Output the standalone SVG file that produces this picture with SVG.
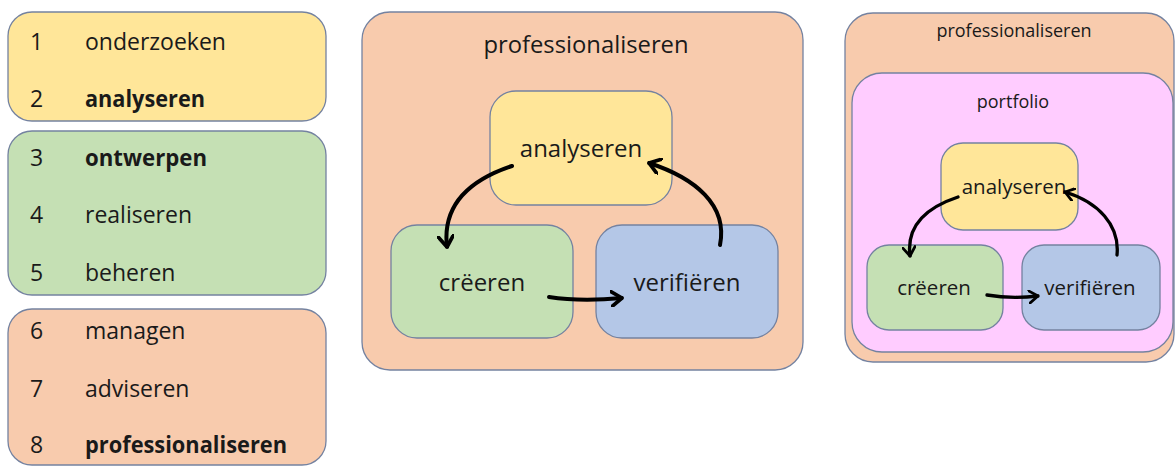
<svg xmlns="http://www.w3.org/2000/svg" width="1176" height="468" viewBox="0 0 1176 468">
<defs>
<style>
.box{stroke:#7482a0;stroke-width:1.3}
.y{fill:#FFE699}.g{fill:#C5E0B4}.o{fill:#F8CBAD}.b{fill:#B4C7E7}.p{fill:#FFCCFF}
text{font-family:"Open Sans","Liberation Sans",sans-serif;fill:#1a1a1a}
.li{font-size:23px}
.bd{font-weight:bold}
.mt{font-size:23.8px;text-anchor:middle}
.mn{font-size:24px;text-anchor:middle}
.rt{font-size:18px;text-anchor:middle}
.rn{font-size:20.5px;text-anchor:middle}
.arr{fill:none;stroke:#000;stroke-width:4;stroke-linecap:round}
.arr2{fill:none;stroke:#000;stroke-width:3.3;stroke-linecap:round}
</style>
<marker id="ah" viewBox="0 0 12 16" refX="11" refY="8" markerWidth="13" markerHeight="17" markerUnits="userSpaceOnUse" orient="auto">
<path d="M1,1 L11,8 L1,15" fill="none" stroke="#000" stroke-width="3.5" stroke-linecap="round" stroke-linejoin="round"/>
</marker>
<marker id="ah2" viewBox="0 0 12 16" refX="11" refY="8" markerWidth="11" markerHeight="14" markerUnits="userSpaceOnUse" orient="auto">
<path d="M1,1 L11,8 L1,15" fill="none" stroke="#000" stroke-width="3.2" stroke-linecap="round" stroke-linejoin="round"/>
</marker>
</defs>

<g id="list-yellow">
<rect class="box y" x="8" y="12" width="318" height="109" rx="24"/>
<text class="li" x="30" y="50">1</text><text class="li" x="85" y="50">onderzoeken</text>
<text class="li" x="30" y="107">2</text><text class="li bd" x="85" y="107" textLength="120" lengthAdjust="spacingAndGlyphs">analyseren</text>
</g>
<g id="list-green">
<rect class="box g" x="8" y="131" width="318" height="164" rx="24"/>
<text class="li" x="30" y="166">3</text><text class="li bd" x="85" y="166" textLength="122" lengthAdjust="spacingAndGlyphs">ontwerpen</text>
<text class="li" x="30" y="223">4</text><text class="li" x="85" y="223">realiseren</text>
<text class="li" x="30" y="281">5</text><text class="li" x="85" y="281">beheren</text>
</g>
<g id="list-orange">
<rect class="box o" x="8" y="309" width="318" height="156" rx="24"/>
<text class="li" x="30" y="339">6</text><text class="li" x="85" y="339">managen</text>
<text class="li" x="30" y="397">7</text><text class="li" x="85" y="397">adviseren</text>
<text class="li" x="30" y="453">8</text><text class="li bd" x="85" y="453" textLength="202" lengthAdjust="spacingAndGlyphs">professionaliseren</text>
</g>

<g id="mid-frame">
<rect class="box o" x="362" y="12" width="441" height="358" rx="28"/>
<text class="mt" x="586" y="53">professionaliseren</text>
</g>
<g id="mid-analyseren">
<rect class="box y" x="490" y="91" width="182" height="114" rx="26"/>
<text class="mn" x="581" y="157">analyseren</text>
</g>
<g id="mid-creeren">
<rect class="box g" x="391" y="225" width="182" height="113" rx="26"/>
<text class="mn" x="482" y="291">crëeren</text>
</g>
<g id="mid-verifieren">
<rect class="box b" x="596" y="225" width="182" height="113" rx="26"/>
<text class="mn" x="687" y="291">verifiëren</text>
</g>

<g id="right-frame">
<rect class="box o" x="845" y="13" width="329" height="349" rx="28"/>
<text class="rt" x="1014" y="37">professionaliseren</text>
</g>
<g id="right-portfolio">
<rect class="box p" x="852" y="73" width="321" height="279" rx="30"/>
<text class="rt" x="1013" y="108">portfolio</text>
</g>
<g id="right-analyseren">
<rect class="box y" x="941" y="143" width="137" height="87" rx="22"/>
<text class="rn" x="1014" y="194">analyseren</text>
</g>
<g id="right-creeren">
<rect class="box g" x="867" y="245" width="136" height="85" rx="22"/>
<text class="rn" x="934" y="295">crëeren</text>
</g>
<g id="right-verifieren">
<rect class="box b" x="1022" y="245" width="138" height="85" rx="22"/>
<text class="rn" x="1090" y="295">verifiëren</text>
</g>

<g id="connectors">
<path class="arr" d="M512,166 C470,180 442,205 447,247" marker-end="url(#ah)"/>
<path class="arr" d="M549,297 C575,301 600,300 622,298" marker-end="url(#ah)"/>
<path class="arr" d="M720,245 C728,205 695,178 649,163" marker-end="url(#ah)"/>
<path class="arr2" d="M958,197 C928,207 906,225 910,256" marker-end="url(#ah2)"/>
<path class="arr2" d="M987,295 C1005,298 1020,298 1038,296" marker-end="url(#ah2)"/>
<path class="arr2" d="M1117,255 C1120,225 1098,202 1065,192" marker-end="url(#ah2)"/>
</g>
</svg>
